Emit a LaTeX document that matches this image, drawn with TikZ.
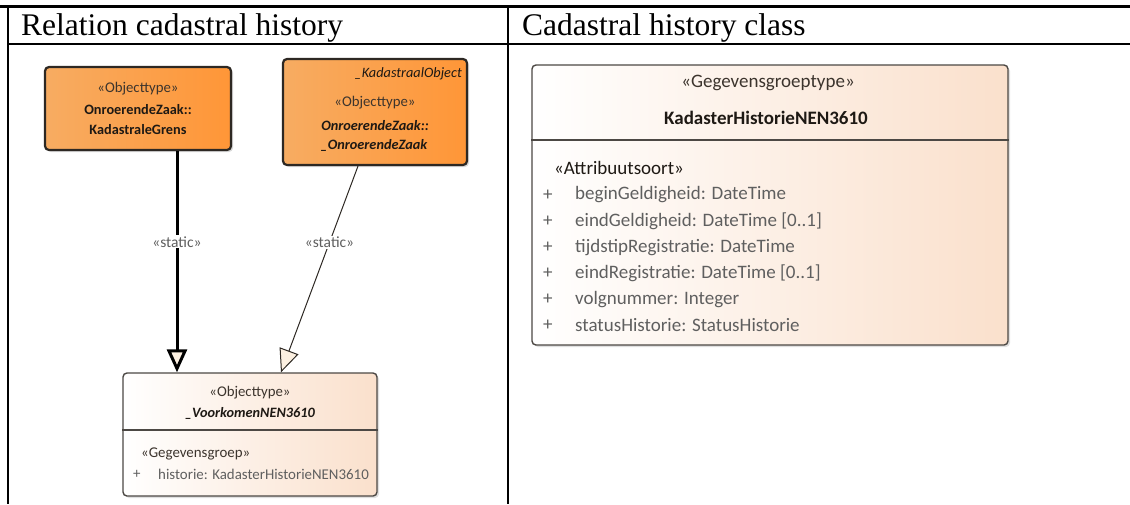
\documentclass[tikz,border=0pt]{standalone}
\usepackage{fontspec}
\setmainfont{Liberation Serif}
\newfontfamily\umlfont{Carlito}
\usetikzlibrary{arrows.meta,shadows}

\definecolor{orangeL}{RGB}{247,172,98}
\definecolor{orangeR}{RGB}{255,150,55}
\definecolor{peach}{RGB}{250,224,204}
\definecolor{boxline}{RGB}{45,40,35}
\definecolor{stereo}{RGB}{60,52,45}
\definecolor{namecol}{RGB}{30,25,20}
\definecolor{attr}{RGB}{95,95,95}
\definecolor{tipfill}{RGB}{252,240,225}

\tikzset{
  tablerule/.style={line width=2.2pt, black},
  headrule/.style={line width=1.3pt, black},
  hdr/.style={font=\fontsize{31.5}{36}\selectfont, anchor=base west, inner sep=0pt},
  objbox/.style={draw=boxline, line width=2.2pt, rounded corners=4pt,
    left color=orangeL, right color=orangeR, inner sep=0pt,
    drop shadow={shadow xshift=2pt, shadow yshift=-2pt, opacity=0.3}},
  classbox/.style={draw=boxline!85, line width=1.4pt, rounded corners=4pt,
    left color=white, right color=peach, inner sep=0pt,
    drop shadow={shadow xshift=2pt, shadow yshift=-2pt, opacity=0.25}},
  sst/.style={font=\umlfont\fontsize{14.8}{16}\selectfont, text=stereo, inner sep=0pt},
  sbf/.style={font=\umlfont\bfseries\fontsize{14.3}{16}\selectfont, text=namecol, inner sep=0pt},
  sbi/.style={font=\umlfont\bfseries\itshape\fontsize{14.3}{16}\selectfont, text=namecol, inner sep=0pt},
  sit/.style={font=\umlfont\itshape\fontsize{14.3}{16}\selectfont, text=namecol, inner sep=0pt},
  sat/.style={font=\umlfont\fontsize{14.9}{16}\selectfont, text=attr, inner sep=0pt, anchor=west},
  bst/.style={font=\umlfont\fontsize{19}{22}\selectfont, text=stereo, inner sep=0pt},
  bbf/.style={font=\umlfont\bfseries\fontsize{19}{22}\selectfont, text=namecol, inner sep=0pt},
  bat/.style={font=\umlfont\fontsize{19}{22}\selectfont, text=attr, inner sep=0pt, anchor=west},
  lbl/.style={font=\umlfont\fontsize{15.5}{17}\selectfont, text=attr, fill=white, inner sep=1pt},
  realize/.style={-{Triangle[length=23pt,width=20pt,fill=tipfill]}},
}

\begin{document}
\begin{tikzpicture}[x=1pt,y=-1pt]
\useasboundingbox (0,0) rectangle (1130,504);

% table frame
\draw[tablerule] (0,6.5) -- (1130,6.5);
\draw[tablerule] (8,5.5) -- (8,504);
\draw[tablerule] (508,5.5) -- (508,504);
\draw[headrule] (8,44) -- (1015,44);
\draw[tablerule] (1015,44) -- (1130,44);

% column headings
\node[hdr] (h1) at (21,35) {Relation cadastral history};
\node[hdr] (h2) at (522,35) {Cadastral history class};

% left: boxes
\node[objbox, minimum width=186pt, minimum height=83pt] (kg) at (138,108.5) {};
\node[sst] (kgs) at (138,89) {«Objecttype»};
\node[sbf] (kgn1) at (138,110) {OnroerendeZaak::};
\node[sbf] (kgn2) at (138,130) {KadastraleGrens};

\node[objbox, minimum width=184pt, minimum height=106pt] (oz) at (375,112) {};
\node[sit, anchor=east] (ozp) at (462,74) {\_KadastraalObject};
\node[sst] (ozs) at (375,103) {«Objecttype»};
\node[sbi] (ozn1) at (375,126) {OnroerendeZaak::};
\node[sbi] (ozn2) at (374,145) {\_OnroerendeZaak};

\node[classbox, minimum width=254pt, minimum height=123pt] (vk) at (250,434.5) {};
\coordinate (vkdiv) at (0,430);
\draw[draw=boxline!85, line width=1.3pt] (vk.west |- vkdiv) -- (vk.east |- vkdiv);
\node[sst] (vks) at (250,393) {«Objecttype»};
\node[sbi] (vkn) at (250,413) {\_VoorkomenNEN3610};
\node[sat, text=stereo] (vkg) at (141,454) {«Gegevensgroep»};
\node[sat] (vkp) at (133,474) {+};
\node[sat] (vka) at (158,474) {historie: KadasterHistorieNEN3610};

% left: realizations
\coordinate (la) at (177,0);
\coordinate (rb) at (358,0);
\coordinate (re) at (281,0);
\draw[realize, line width=3pt, black] (kg.south -| la) -- node[lbl, pos=0.41] {«static»} (vk.north -| la);
\draw[realize, line width=1pt, boxline] (oz.south -| rb) -- node[lbl, pos=0.37] {«static»} (vk.north -| re);

% right: class
\node[classbox, minimum width=476pt, minimum height=280pt] (kh) at (770,205) {};
\coordinate (khdiv) at (0,140);
\draw[draw=boxline!85, line width=1.4pt] (kh.west |- khdiv) -- (kh.east |- khdiv);
\node[bst] (khs) at (768,83) {«Gegevensgroeptype»};
\node[bbf] (khn) at (766,118) {KadasterHistorieNEN3610};
\node[bat, text=namecol] (kha) at (554,168) {«Attribuutsoort»};
\node[bat] (p1) at (543,195) {+};
\node[bat] (a1) at (575,195) {beginGeldigheid: DateTime};
\node[bat] (p2) at (543,221.5) {+};
\node[bat] (a2) at (575,221.5) {eindGeldigheid: DateTime [0..1]};
\node[bat] (p3) at (543,247.5) {+};
\node[bat] (a3) at (575,247.5) {tijdstipRegistratie: DateTime};
\node[bat] (p4) at (543,273.5) {+};
\node[bat] (a4) at (575,273.5) {eindRegistratie: DateTime [0..1]};
\node[bat] (p5) at (543,299.5) {+};
\node[bat] (a5) at (575,299.5) {volgnummer: Integer};
\node[bat] (p6) at (543,325.5) {+};
\node[bat] (a6) at (575,325.5) {statusHistorie: StatusHistorie};
\end{tikzpicture}
\end{document}
